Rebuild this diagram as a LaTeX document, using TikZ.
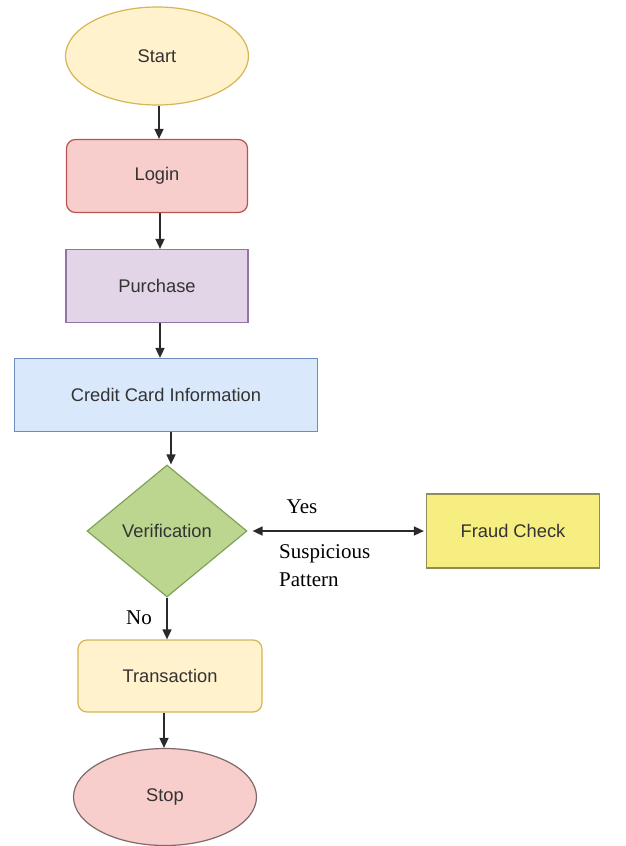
\documentclass[tikz,border=0pt]{standalone}
\usepackage{fontspec}
\setmainfont{Liberation Serif}
\setsansfont{Liberation Sans}
\usetikzlibrary{shapes.geometric,arrows.meta,calc}
\definecolor{txt}{HTML}{333333}
\definecolor{ln}{HTML}{2A2A2A}
\definecolor{yelF}{HTML}{FFF2CC}\definecolor{yelD}{HTML}{D6B656}
\definecolor{redF}{HTML}{F8CECC}\definecolor{redD}{HTML}{B85450}
\definecolor{purF}{HTML}{E1D5E7}\definecolor{purD}{HTML}{9673A6}
\definecolor{bluF}{HTML}{DAE8FC}\definecolor{bluD}{HTML}{6C8EBF}
\definecolor{grnF}{HTML}{BCD690}\definecolor{grnD}{HTML}{7FA356}
\definecolor{frdF}{HTML}{F6EE80}\definecolor{frdD}{HTML}{8F8C58}
\definecolor{stpD}{HTML}{7E6A6A}
\begin{document}
\begin{tikzpicture}[x=1pt,y=-1pt,
  box/.style={draw, line width=1.2pt, inner sep=0pt, text=txt,
    font=\sffamily\fontsize{18.3}{21}\selectfont},
  ellip/.style={box, ellipse},
  rbox/.style={box, rectangle, rounded corners=9pt},
  sbox/.style={box, rectangle},
  dia/.style={box, diamond},
  arr/.style={draw=ln, line width=1.6pt, -{Triangle[length=10pt,width=9pt]}},
  lbl/.style={font=\rmfamily\fontsize{21}{28}\selectfont, text=black, inner sep=0pt}
]
\useasboundingbox (0,0) rectangle (626,846);
\fill[white] (0,0) rectangle (626,846);

\node[ellip, fill=yelF, draw=yelD, minimum width=183pt, minimum height=98pt] (start) at (157,56) {Start};
\node[rbox, fill=redF, draw=redD, minimum width=181pt, minimum height=73pt] (login) at (157,176) {Login};
\node[sbox, fill=purF, draw=purD, minimum width=182pt, minimum height=73pt] (purchase) at (157,286) {Purchase};
\node[sbox, fill=bluF, draw=bluD, minimum width=303pt, minimum height=73pt] (cc) at (166,395) {Credit Card Information};
\node[dia, fill=grnF, draw=grnD, minimum width=160pt, minimum height=132pt] (verif) at (167,531) {Verification};
\node[sbox, fill=frdF, draw=frdD, minimum width=173pt, minimum height=74pt] (fraud) at (513,531) {Fraud Check};
\node[rbox, fill=yelF, draw=yelD, minimum width=184pt, minimum height=72pt] (trans) at (170,676) {Transaction};
\node[ellip, fill=redF, draw=stpD, minimum width=183pt, minimum height=97pt] (stop) at (165,797) {Stop};

\draw[arr] ([xshift=2pt]start.south) -- ([xshift=2pt]start.south |- login.north);
\draw[arr] ([xshift=3pt]login.south) -- ([xshift=3pt]login.south |- purchase.north);
\draw[arr] ([xshift=3pt]purchase.south) -- ([xshift=3pt]purchase.south |- cc.north);
\draw[arr] ([xshift=5pt]cc.south) -- ([xshift=5pt]cc.south |- verif.north);
\draw[arr] (verif.south) -- (verif.south |- trans.north);
\draw[arr] ([xshift=-6pt]trans.south) -- ([xshift=-6pt]trans.south |- stop.north);
\draw[arr, {Triangle[length=10pt,width=9pt]}-{Triangle[length=10pt,width=9pt]}] ([xshift=5pt]verif.east) -- ([xshift=-2pt]fraud.west);

\node[lbl] (yes) at (302,507) {Yes};
\node[lbl, align=left, anchor=west] (susp) at (279,566) {Suspicious\\Pattern};
\node[lbl] (no) at (139,618) {No};
\end{tikzpicture}
\end{document}
